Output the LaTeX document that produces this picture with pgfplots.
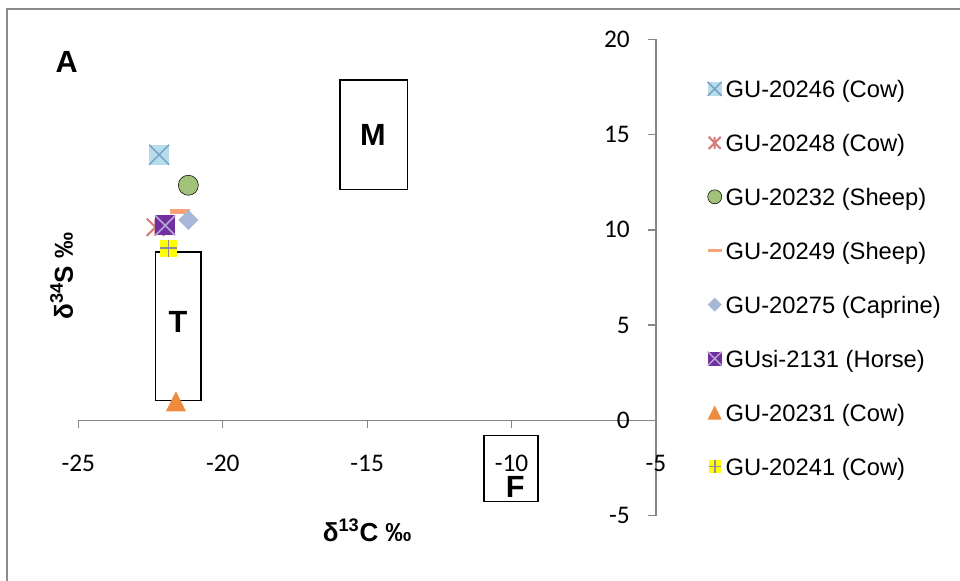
\documentclass[border=0pt]{standalone}
\usepackage{fontspec}
\setmainfont{Liberation Sans}
\newfontfamily\carlito{Carlito}
\usepackage{pgfplots}
\pgfplotsset{compat=1.18}

\definecolor{axisgray}{HTML}{868686}
\definecolor{framegray}{HTML}{8C8C8C}
\definecolor{cAfill}{HTML}{B7DDE8}
\definecolor{cAline}{HTML}{7A9FCE}
\definecolor{cB}{HTML}{D47F7C}
\definecolor{cC}{HTML}{A2C27A}
\definecolor{cD}{HTML}{F6A37A}
\definecolor{cE}{HTML}{A8B8D9}
\definecolor{cFfill}{HTML}{7030A0}
\definecolor{cFline}{HTML}{B9A6D6}
\definecolor{cG}{HTML}{EE8B3E}
\definecolor{cHfill}{HTML}{FFFF00}
\definecolor{cHline}{HTML}{8E8E9A}

\pgfdeclareplotmark{sqX}{%
  \pgfpathrectangle{\pgfqpoint{-\pgfplotmarksize}{-\pgfplotmarksize}}{\pgfqpoint{2\pgfplotmarksize}{2\pgfplotmarksize}}%
  \pgfusepathqfill
  \pgfpathmoveto{\pgfqpoint{-\pgfplotmarksize}{-\pgfplotmarksize}}%
  \pgfpathlineto{\pgfqpoint{\pgfplotmarksize}{\pgfplotmarksize}}%
  \pgfpathmoveto{\pgfqpoint{-\pgfplotmarksize}{\pgfplotmarksize}}%
  \pgfpathlineto{\pgfqpoint{\pgfplotmarksize}{-\pgfplotmarksize}}%
  \pgfusepathqstroke}
\pgfdeclareplotmark{sqPlus}{%
  \pgfpathrectangle{\pgfqpoint{-\pgfplotmarksize}{-\pgfplotmarksize}}{\pgfqpoint{2\pgfplotmarksize}{2\pgfplotmarksize}}%
  \pgfusepathqfill
  \pgfpathmoveto{\pgfqpoint{-\pgfplotmarksize}{0pt}}%
  \pgfpathlineto{\pgfqpoint{\pgfplotmarksize}{0pt}}%
  \pgfpathmoveto{\pgfqpoint{0pt}{\pgfplotmarksize}}%
  \pgfpathlineto{\pgfqpoint{0pt}{-\pgfplotmarksize}}%
  \pgfusepathqstroke}
\pgfdeclareplotmark{starX}{%
  \pgfpathmoveto{\pgfqpoint{-\pgfplotmarksize}{-\pgfplotmarksize}}%
  \pgfpathlineto{\pgfqpoint{\pgfplotmarksize}{\pgfplotmarksize}}%
  \pgfpathmoveto{\pgfqpoint{-\pgfplotmarksize}{\pgfplotmarksize}}%
  \pgfpathlineto{\pgfqpoint{\pgfplotmarksize}{-\pgfplotmarksize}}%
  \pgfpathmoveto{\pgfqpoint{0pt}{\pgfplotmarksize}}%
  \pgfpathlineto{\pgfqpoint{0pt}{-\pgfplotmarksize}}%
  \pgfusepathqstroke}
\pgfdeclareplotmark{dmd}{%
  \pgfpathmoveto{\pgfqpoint{0pt}{\pgfplotmarksize}}%
  \pgfpathlineto{\pgfqpoint{\pgfplotmarksize}{0pt}}%
  \pgfpathlineto{\pgfqpoint{0pt}{-\pgfplotmarksize}}%
  \pgfpathlineto{\pgfqpoint{-\pgfplotmarksize}{0pt}}%
  \pgfpathclose
  \pgfusepathqfill}
\pgfdeclareplotmark{tri}{%
  \pgfpathmoveto{\pgfqpoint{0pt}{\pgfplotmarksize}}%
  \pgfpathlineto{\pgfqpoint{\pgfplotmarksize}{-\pgfplotmarksize}}%
  \pgfpathlineto{\pgfqpoint{-\pgfplotmarksize}{-\pgfplotmarksize}}%
  \pgfpathclose
  \pgfusepathqfill}
\pgfdeclareplotmark{dash}{%
  \pgfpathrectangle{\pgfqpoint{-\pgfplotmarksize}{-0.25\pgfplotmarksize}}{\pgfqpoint{2\pgfplotmarksize}{0.5\pgfplotmarksize}}%
  \pgfusepathqfill}

\begin{document}
\begin{tikzpicture}[x=0.75pt,y=0.75pt]
\useasboundingbox (0,0) rectangle (960,581);
\fill[white] (0,0) rectangle (960,581);
\draw[framegray, line width=1pt] (7,-30) -- (7,572) -- (990,572);
\begin{axis}[
  at={(58.725pt,48.975pt)}, anchor=south west, scale only axis,
  width=433.3pt, height=357.3pt,
  xmin=-25, xmax=-5, ymin=-5, ymax=20,
  clip=false,
  axis x line=middle, axis y line=right,
  hide obscured x ticks=false, hide obscured y ticks=false,
  axis line style={draw=axisgray, line width=1pt, -},
  every tick/.style={draw=axisgray, line width=1pt},
  major tick length=6pt,
  xtick={-25,-20,-15,-10,-5}, xticklabels={-25,-20,-15,-10,-5},
  ytick={-5,0,5,10,15,20}, yticklabels={-5,0,5,10,15,20},
  xtick align=outside, ytick align=inside,
  xticklabel style={font=\carlito\fontsize{19}{19}\selectfont, anchor=center, inner sep=0pt, yshift=-26pt},
  yticklabel style={font=\carlito\fontsize{19}{19}\selectfont, anchor=east, inner sep=0pt, xshift=-19.5pt},
  xlabel={\bfseries δ\textsuperscript{13}C ‰},
  ylabel={\bfseries δ\textsuperscript{34}S ‰},
  xlabel style={at={(axis description cs:0.5,-0.030)}, anchor=center, font=\fontsize{19.5}{19.5}\selectfont, inner sep=0pt},
  ylabel style={at={(axis description cs:-0.0287,0.503)}, anchor=center, font=\fontsize{19.5}{19.5}\selectfont, inner sep=0pt},
  legend cell align=left,
  legend image code/.code={\draw[every mark/.append style={scale=0.7}] plot coordinates {(0pt,2.3pt)};},
  legend style={at={(axis description cs:1.089,0.913)}, anchor=north west, draw=none, fill=none,
    inner sep=0pt, row sep=23.95pt,
    font=\fontsize{17.8}{17.8}\selectfont,
    nodes={inner sep=0pt, text height=12.5pt, text depth=4pt},
    /tikz/every even column/.append style={column sep=0pt},
    /tikz/every odd column/.append style={column sep=3pt}},
  mark size=7.5pt,
]
\addplot[only marks, mark=sqX, mark options={fill=cAfill, draw=cAline, line width=1.1pt}] coordinates {(-22.2,13.94)};
\addlegendentry{GU-20246 (Cow)}
\addplot[only marks, mark=starX, mark size=6.5pt, mark options={draw=cB, line width=1.5pt}] coordinates {(-22.33,10.14)};
\addlegendentry{GU-20248 (Cow)}
\addplot[only marks, mark=*, mark options={fill=cC, draw=none}] coordinates {(-21.19,12.34)};
\addlegendentry{GU-20232 (Sheep)}
\addplot[only marks, mark=dash, mark options={fill=cD, draw=none}] coordinates {(-21.49,10.97)};
\addlegendentry{GU-20249 (Sheep)}
\addplot[only marks, mark=dmd, mark options={fill=cE, draw=none}] coordinates {(-21.19,10.52)};
\addlegendentry{GU-20275 (Caprine)}
\addplot[only marks, mark=sqX, mark options={fill=cFfill, draw=cFline, line width=1.1pt}] coordinates {(-21.99,10.23)};
\addlegendentry{GUsi-2131 (Horse)}
\addplot[only marks, mark=tri, mark options={fill=cG, draw=none}] coordinates {(-21.62,1.0)};
\addlegendentry{GU-20231 (Cow)}
\addplot[only marks, mark=sqPlus, mark size=6.5pt, mark options={fill=cHfill, draw=cHline, line width=1.3pt}] coordinates {(-21.88,9.03)};
\addlegendentry{GU-20241 (Cow)}
\draw[black, line width=1.1pt] (axis cs:-15.94,17.86) rectangle (axis cs:-13.6,12.13);
\draw[black, line width=1.1pt] (axis cs:-22.33,8.84) rectangle (axis cs:-20.75,1.04);
\draw[black, line width=1.1pt] (axis cs:-10.95,-0.80) rectangle (axis cs:-9.09,-4.26);
\node[font=\bfseries\fontsize{23}{23}\selectfont, inner sep=0pt] at (axis cs:-14.8,14.98) {M};
\node[font=\bfseries\fontsize{23}{23}\selectfont, inner sep=0pt] at (axis cs:-21.55,5.17) {T};
\node[font=\bfseries\fontsize{23}{23}\selectfont, inner sep=0pt] at (axis cs:-9.87,-3.49) {F};
\end{axis}
\node[font=\bfseries\fontsize{23}{23}\selectfont, inner sep=0pt] at (66.7,519.3) {A};
\end{tikzpicture}
\end{document}
